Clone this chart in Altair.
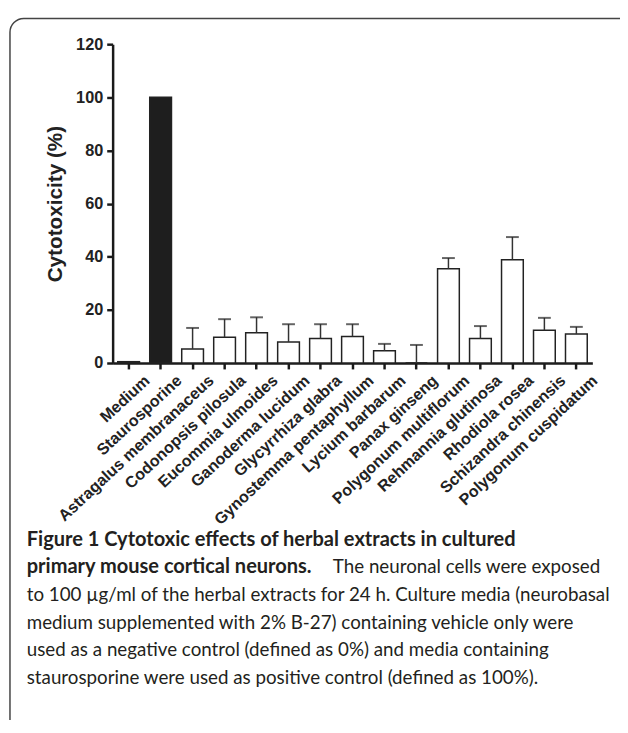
import altair as alt
import pandas as pd

categories = [
    "Medium", "Staurosporine", "Astragalus membranaceus", "Codonopsis pilosula",
    "Eucommia ulmoides", "Ganoderma lucidum", "Glycyrrhiza glabra",
    "Gynostemma pentaphyllum", "Lycium barbarum", "Panax ginseng",
    "Polygonum multiflorum", "Rehmannia glutinosa", "Rhodiola rosea",
    "Schizandra chinensis", "Polygonum cuspidatum",
]
values = [0.5, 100, 5.3, 9.7, 11.4, 7.9, 9.2, 10.0, 4.6, 0.0, 35.5, 9.2, 38.9, 12.3, 10.9]
errors = [0, 0, 7.9, 6.8, 5.8, 6.7, 5.4, 4.6, 2.6, 6.8, 4.0, 4.7, 8.5, 4.7, 2.7]
y_ticks = [0, 20, 40, 60, 80, 100, 120]

caption_lines = [
    ("Figure 1 Cytotoxic effects of herbal extracts in cultured", "bold", "left"),
    ("primary mouse cortical neurons.", "bold", "left"),
    ("The neuronal cells were exposed", "normal", "right"),
    ("to 100 µg/ml of the herbal extracts for 24 h. Culture media (neurobasal", "normal", "left"),
    ("medium supplemented with 2% B-27) containing vehicle only were", "normal", "left"),
    ("used as a negative control (defined as 0%) and media containing", "normal", "left"),
    ("staurosporine were used as positive control (defined as 100%).", "normal", "left"),
]
caption_row = [0, 1, 1, 2, 3, 4, 5]

df = pd.DataFrame({"cat": categories, "value": values, "err": errors})
df["top"] = df["value"] + df["err"]
df["fill"] = ["#ffffff" if c != "Staurosporine" else "#1e1e1e" for c in categories]

W, H = 486, 323
LEFT, TOP = 106, 32
TOTAL_W, TOTAL_H = 620, 712

xenc = alt.X(
    "cat:N", sort=categories, title=None,
    scale=alt.Scale(paddingInner=0.32, paddingOuter=0.16),
    axis=alt.Axis(labelAngle=317, labelAlign="right", labelBaseline="middle",
                  labelOffset=19, labelPadding=9, labelFontSize=16.3,
                  labelFont="Liberation Sans", labelFontWeight="bold",
                  labelColor="#222", labelLimit=400, labelOverlap=False,
                  tickSize=6, tickWidth=2.5, tickColor="#1a1a1a",
                  domainWidth=2.5, domainColor="#1a1a1a"),
)

bars = alt.Chart(df).mark_bar(stroke="#222", strokeWidth=1.5).encode(
    x=xenc,
    y=alt.Y("value:Q", scale=alt.Scale(domain=[0, 120], nice=False),
            title="Cytotoxicity (%)",
            axis=alt.Axis(values=y_ticks, tickSize=6, tickWidth=2.5,
                          tickColor="#1a1a1a", domainWidth=2.5,
                          domainColor="#1a1a1a", labelFontSize=16.5,
                          labelFont="Liberation Sans", labelFontWeight="bold",
                          labelColor="#222", labelPadding=4,
                          titleFont="Liberation Sans", titleFontSize=21,
                          titleFontWeight="bold", titleColor="#222",
                          titlePadding=10, grid=False)),
    fill=alt.Fill("fill:N", scale=None),
)

err_df = df[df["err"] > 0]
rules = alt.Chart(err_df).mark_rule(color="#333", strokeWidth=1.5).encode(
    x=alt.X("cat:N", sort=categories),
    y="value:Q",
    y2="top:Q",
)
caps = alt.Chart(err_df).mark_tick(color="#222", thickness=2, size=13).encode(
    x=alt.X("cat:N", sort=categories),
    y="top:Q",
)

frame = alt.Chart(pd.DataFrame({"k": [0]})).mark_rect(
    fill=None, stroke="#444", strokeWidth=1.5, cornerRadius=14
).encode(
    x=alt.value(-104), x2=alt.value(530), y=alt.value(-26), y2=alt.value(720)
)

line_y = [502, 530, 558, 586, 614, 642]
cap_df = pd.DataFrame({
    "text": [t for t, _, _ in caption_lines],
    "weight": [w for _, w, _ in caption_lines],
    "align": [a for _, _, a in caption_lines],
    "row": caption_row,
})
cap_df["py"] = [line_y[r] for r in caption_row]
cap_df["px"] = [-87 if a == "left" else 494 for a in cap_df["align"]]

def cap_layer(sub, size):
    w = sub["weight"].iloc[0]
    a = sub["align"].iloc[0]
    return alt.Chart(sub).mark_text(
        font="Lato", fontSize=size, fontWeight=w, align=a, baseline="middle",
        color="#231f20"
    ).encode(
        x=alt.X("px:Q", scale=None),
        y=alt.Y("py:Q", scale=None),
        text="text:N",
    )

bold_left = cap_df[(cap_df["weight"] == "bold")]
norm_left = cap_df[(cap_df["weight"] == "normal") & (cap_df["align"] == "left")]
norm_right = cap_df[(cap_df["weight"] == "normal") & (cap_df["align"] == "right")]

chart = alt.layer(
    frame, bars, rules, caps,
    cap_layer(bold_left, 20.3), cap_layer(norm_left, 19.0), cap_layer(norm_right, 19.0),
).properties(
    width=W, height=H,
    autosize=alt.AutoSizeParams(type="none"),
    padding={"left": LEFT, "top": TOP,
             "right": TOTAL_W - LEFT - W, "bottom": TOTAL_H - TOP - H},
).configure_view(stroke=None)

chart.save("out.html", embed_options={"renderer": "svg", "actions": False})
